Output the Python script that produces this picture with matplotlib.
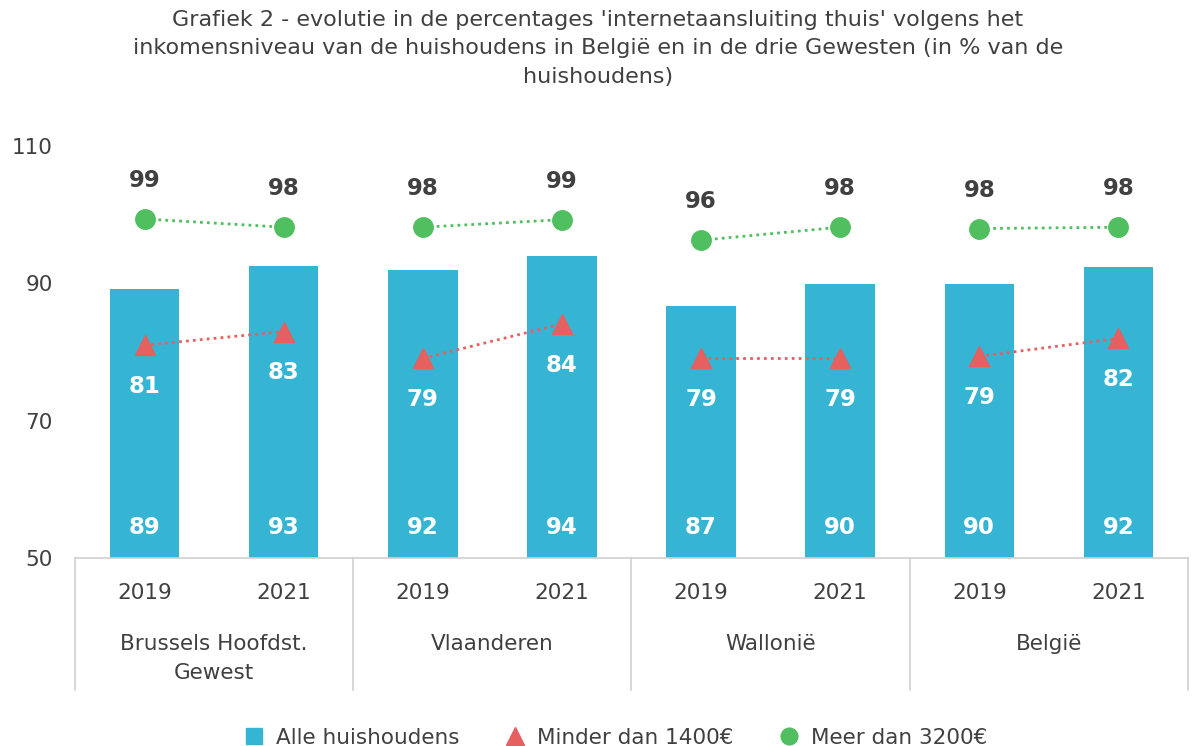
import matplotlib.pyplot as plt
from matplotlib.lines import Line2D
from matplotlib.transforms import blended_transform_factory

regions = ["Brussels Hoofdst.\nGewest", "Vlaanderen", "Wallonië", "België"]
years = ["2019", "2021"]
alle = [89.2, 92.6, 91.9, 94.0, 86.7, 89.9, 89.9, 92.4]
minder = [81.0, 83.0, 79.1, 84.1, 79.1, 79.1, 79.4, 82.0]
meer = [99.4, 98.2, 98.2, 99.3, 96.3, 98.2, 98.0, 98.2]

C_BAR = "#35B5D3"
C_TRI = "#E5605F"
C_DOT = "#4FBF5F"
C_TXT = "#404040"

plt.rcParams["font.family"] = ["DejaVu Sans"]

fig = plt.figure(figsize=(11.96, 7.46), dpi=100)
ax = fig.add_axes([0.0627, 0.252, 0.9306, 0.552])

x = list(range(len(alle)))
ax.bar(x, [v - 50 for v in alle], bottom=50, width=0.5, color=C_BAR, zorder=1)

for g in range(len(regions)):
    xs = x[2 * g:2 * g + 2]
    ax.plot(xs, minder[2 * g:2 * g + 2], ls=(0, (1, 1.5)), lw=2, color=C_TRI,
            marker="^", ms=15, zorder=3)
    ax.plot(xs, meer[2 * g:2 * g + 2], ls=(0, (1, 1.5)), lw=2, color=C_DOT,
            marker="o", ms=14, zorder=3)

for i in x:
    ax.text(i, 54.5, f"{alle[i]:.0f}", ha="center", va="center", color="white",
            fontsize=16.5, fontweight="bold")
    ax.text(i, minder[i] - 6, f"{minder[i]:.0f}", ha="center", va="center",
            color="white", fontsize=16.5, fontweight="bold")
    ax.text(i, meer[i] + 5.6, f"{meer[i]:.0f}", ha="center", va="center",
            color=C_TXT, fontsize=16.5, fontweight="bold")

ax.set_xlim(-0.5, len(alle) - 0.5)
ax.set_ylim(50, 110)
ax.set_yticks([50, 70, 90, 110])
ax.tick_params(axis="y", length=0, labelsize=15.5, labelcolor=C_TXT, pad=16)
ax.set_xticks([])
for s in ["top", "right", "left"]:
    ax.spines[s].set_visible(False)
ax.spines["bottom"].set_color("#D0D0D0")
ax.spines["bottom"].set_linewidth(1.2)

tr = blended_transform_factory(ax.transData, ax.transAxes)
for b in [-0.5, 1.5, 3.5, 5.5, 7.5]:
    ax.plot([b, b], [0, -0.32], transform=tr, color="#D0D0D0", lw=1.2,
            clip_on=False)
for i in x:
    ax.text(i, -0.085, years[i % 2], transform=tr, ha="center", va="center",
            fontsize=15.5, color=C_TXT)
for g, name in enumerate(regions):
    ax.text(2 * g + 0.5, -0.184, name, transform=tr, ha="center", va="top",
            fontsize=15.5, color=C_TXT, linespacing=1.6)

fig.suptitle("Grafiek 2 - evolutie in de percentages 'internetaansluiting thuis' volgens het\n"
             "inkomensniveau van de huishoudens in België en in de drie Gewesten (in % van de\n"
             "huishoudens)", y=0.987, fontsize=16, color=C_TXT, linespacing=1.55)

handles = [
    Line2D([], [], ls="none", marker="s", ms=11, color=C_BAR),
    Line2D([], [], ls="none", marker="^", ms=13, color=C_TRI),
    Line2D([], [], ls="none", marker="o", ms=12, color=C_DOT),
]
fig.legend(handles, ["Alle huishoudens", "Minder dan 1400€", "Meer dan 3200€"],
           loc="lower center", bbox_to_anchor=(0.51, -0.028), ncol=3, frameon=False,
           fontsize=15.5, handletextpad=0.0, columnspacing=1.6, labelcolor=C_TXT)

fig.savefig("out.png", dpi=100)
